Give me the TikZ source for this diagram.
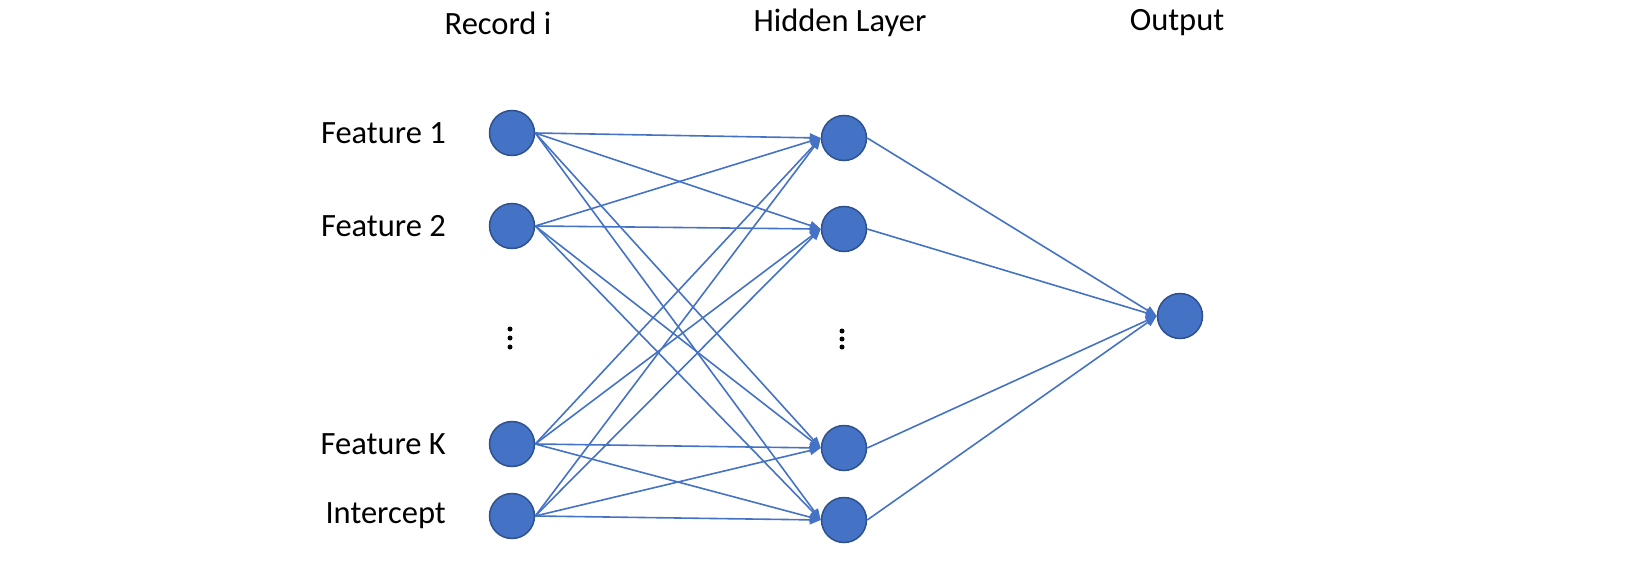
\documentclass[tikz,border=0pt]{standalone}
\usepackage{fontspec}
\setmainfont{Carlito}
\usetikzlibrary{arrows.meta}
\definecolor{nblue}{HTML}{4472C4}
\definecolor{nborder}{HTML}{2F528F}
\begin{document}
\begin{tikzpicture}[x=1pt,y=-1pt,
  neuron/.style={circle,fill=nblue,draw=nborder,line width=1.5pt,minimum size=45pt,inner sep=0pt},
  lbl/.style={font=\fontsize{32.5}{36}\selectfont,text=black,inner sep=0pt},
  conn/.style={draw=nblue,line width=1.6pt,-{Triangle[length=11pt,width=9pt]}},
  dotmark/.style={circle,fill=black,inner sep=0pt,minimum size=5pt}]
\useasboundingbox (0,0) rectangle (1626,562);
% titles
\node[lbl] (t1) at (498,23) {Record i};
\node[lbl] (t2) at (840,23) {Hidden Layer};
\node[lbl] (t3) at (1177,23) {Output};
% input nodes
\node[neuron] (i1) at (512,133) {};
\node[neuron] (i2) at (512,226) {};
\node[neuron] (i3) at (512,444) {};
\node[neuron] (i4) at (512,516) {};
% hidden nodes
\node[neuron] (h1) at (844,138) {};
\node[neuron] (h2) at (844,229) {};
\node[neuron] (h3) at (844,448) {};
\node[neuron] (h4) at (844,520) {};
% output
\node[neuron] (o) at (1180,316) {};
% labels
\node[lbl,anchor=east] (l1) at (446,133) {Feature 1};
\node[lbl,anchor=east] (l2) at (446,226) {Feature 2};
\node[lbl,anchor=east] (l3) at (446,444) {Feature K};
\node[lbl,anchor=east] (l4) at (446,516) {Intercept};
% dots
\foreach \y [count=\k] in {329,338,347}{
  \node[dotmark] (da\k) at (510,\y) {};
}
\foreach \y [count=\k] in {331,339,347}{
  \node[dotmark] (db\k) at (842,\y) {};
}
% connections
\foreach \i in {i1,i2,i3,i4}{
  \foreach \h in {h1,h2,h3,h4}{
    \draw[conn] (\i.east) -- (\h.west);
  }
}
\foreach \h in {h1,h2,h3,h4}{
  \draw[conn] (\h.east) -- (o.west);
}
\end{tikzpicture}
\end{document}
